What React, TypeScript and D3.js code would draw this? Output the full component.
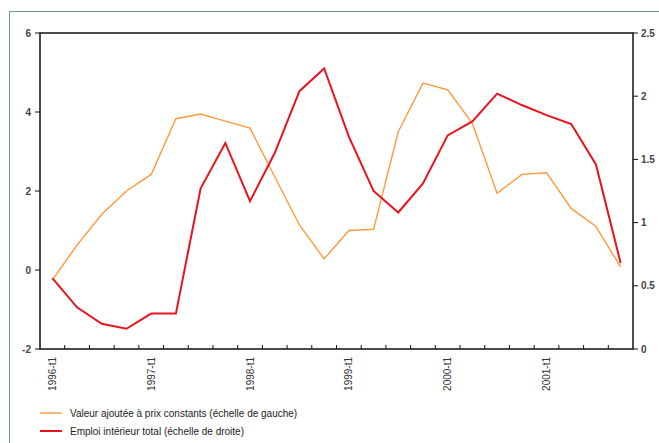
import { line, range, scaleBand, scaleLinear } from "d3";

const quarters = range(1996, 2002).flatMap((y) => [1, 2, 3, 4].map((q) => `${y}-t${q}`));

const valeurAjoutee = [
  -0.25, 0.63, 1.41, 2.0, 2.42, 3.83, 3.95, 3.77, 3.59, 2.36, 1.14, 0.28,
  1.0, 1.03, 3.5, 4.73, 4.56, 3.71, 1.94, 2.42, 2.46, 1.56, 1.1, 0.08
];

const emploiInterieur = [
  0.56, 0.33, 0.2, 0.16, 0.28, 0.28, 1.27, 1.63, 1.17, 1.55, 2.04, 2.22,
  1.68, 1.25, 1.08, 1.31, 1.69, 1.8, 2.02, 1.93, 1.85, 1.78, 1.46, 0.68
];

const leftTicks = [-2, 0, 2, 4, 6];
const rightTicks = [0, 0.5, 1, 1.5, 2, 2.5];

const legendItems = [
  { label: "Valeur ajoutée à prix constants (échelle de gauche)", color: "#ff9a3c", width: 1.4 },
  { label: "Emploi intérieur total (échelle de droite)", color: "#e8131d", width: 2 }
];

const W = 659;
const H = 443;
const m = { left: 40, right: 633, top: 33, bottom: 349 };
const font = "'Liberation Sans', Arial, sans-serif";

export default function App() {
  const x = scaleBand<string>().domain(quarters).range([m.left, m.right]);
  const yL = scaleLinear().domain([-2, 6]).range([m.bottom, m.top]);
  const yR = scaleLinear().domain([0, 2.5]).range([m.bottom, m.top]);
  const cx = (i: number) => (x(quarters[i]) ?? 0) + x.bandwidth() / 2;

  const orangePath = line<number>().x((_, i) => cx(i)).y((d) => yL(d))(valeurAjoutee) ?? "";
  const redPath = line<number>().x((_, i) => cx(i)).y((d) => yR(d))(emploiInterieur) ?? "";

  return (
    <svg width={W} height={H} style={{ position: "absolute", left: 0, top: 0 }}>
      <rect x={0} y={0} width={W} height={H} fill="#fff" />
      <path d={`M9.5,${H} V11.5 H${W}`} fill="none" stroke="#6b93a8" strokeWidth={1} />

      {/* plot frame */}
      <rect x={m.left} y={m.top} width={m.right - m.left} height={m.bottom - m.top} fill="none" stroke="#111" strokeWidth={1.5} />

      {/* bottom ticks between quarters */}
      {quarters.slice(1).map((q) => (
        <line key={q} x1={x(q)} x2={x(q)} y1={m.bottom} y2={m.bottom - 4} stroke="#111" strokeWidth={1} />
      ))}
      {quarters.map((q, i) =>
        q.endsWith("t1") ? (
          <text
            key={q}
            transform={`translate(${cx(i) + 3.5},${m.bottom + 8}) rotate(-90)`}
            textAnchor="end"
            fontFamily={font}
            fontSize={10}
            fill="#333"
          >
            {q}
          </text>
        ) : null
      )}

      {/* left axis */}
      {leftTicks.map((t) => (
        <g key={t}>
          <line x1={m.left - 5} x2={m.left} y1={yL(t)} y2={yL(t)} stroke="#111" />
          <text x={m.left - 9} y={yL(t) + 3.5} textAnchor="end" fontFamily={font} fontSize={10} fontWeight="bold" fill="#444">
            {t}
          </text>
        </g>
      ))}

      {/* right axis */}
      {rightTicks.map((t) => (
        <g key={t}>
          <line x1={m.right} x2={m.right + 5} y1={yR(t)} y2={yR(t)} stroke="#111" />
          <text x={m.right + 8} y={yR(t) + 3.5} fontFamily={font} fontSize={10} fontWeight="bold" fill="#444">
            {t}
          </text>
        </g>
      ))}

      <path d={orangePath} fill="none" stroke={legendItems[0].color} strokeWidth={legendItems[0].width} />
      <path d={redPath} fill="none" stroke={legendItems[1].color} strokeWidth={legendItems[1].width} />

      {/* legend */}
      {legendItems.map((it, i) => (
        <g key={it.label} transform={`translate(40,${413 + i * 18})`}>
          <line x1={0} x2={22} y1={0} y2={0} stroke={it.color} strokeWidth={it.width} />
          <text x={30} y={3.5} fontFamily={font} fontSize={10} fill="#222">
            {it.label}
          </text>
        </g>
      ))}
    </svg>
  );
}
